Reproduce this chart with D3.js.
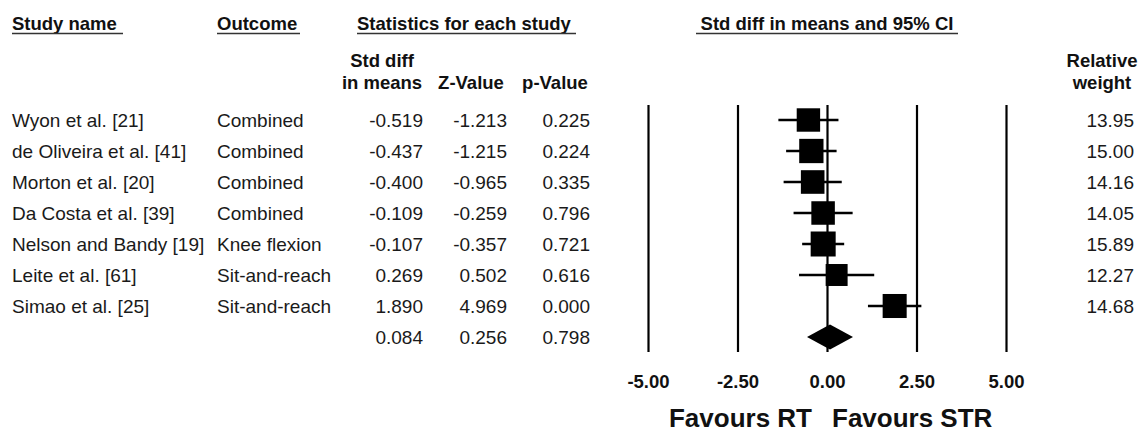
<!DOCTYPE html>
<html>
<head>
<meta charset="utf-8">
<script src="https://cdn.jsdelivr.net/npm/d3@7"></script>
<style>
  body { margin: 0; background: #fff; }
  svg { display: block; font-family: "Liberation Sans", Arial, sans-serif; }
  .head { font-size: 18.5px; font-weight: bold; fill: #111; }
  .cell { font-size: 19px; fill: #1a1a1a; }
  .rule { stroke: #333; stroke-width: 1.6; }
  .tick text { font-size: 18.5px; font-weight: bold; fill: #111; }
  .fav { font-size: 26px; font-weight: bold; fill: #111; }
</style>
</head>
<body>
<script>
// data
var studies = ["Wyon et al. [21]", "de Oliveira et al. [41]", "Morton et al. [20]", "Da Costa et al. [39]",
               "Nelson and Bandy [19]", "Leite et al. [61]", "Simao et al. [25]"];
var outcomes = ["Combined", "Combined", "Combined", "Combined", "Knee flexion", "Sit-and-reach", "Sit-and-reach"];
var smd = [-0.519, -0.437, -0.400, -0.109, -0.107, 0.269, 1.890];
var lower = [-1.358, -1.142, -1.212, -0.934, -0.694, -0.781, 1.144];
var upper = [0.320, 0.268, 0.412, 0.716, 0.480, 1.319, 2.636];
var zValues = [-1.213, -1.215, -0.965, -0.259, -0.357, 0.502, 4.969];
var pValues = [0.225, 0.224, 0.335, 0.796, 0.721, 0.616, 0.000];
var weights = [13.95, 15.00, 14.16, 14.05, 15.89, 12.27, 14.68];

// pooled result
var pooled = { smd: 0.084, lower: -0.559, upper: 0.727, z: 0.256, p: 0.798 };

var tickValues = [-5, -2.5, 0, 2.5, 5];

var width = 1146, height = 434;
var svg = d3.select("body").append("svg").attr("width", width).attr("height", height);

var x = d3.scaleLinear().domain([-5, 5]).range([648, 1006]);
var y = d3.scalePoint().domain(d3.range(studies.length + 1)).range([120, 337]);
var boxSize = d3.scaleSqrt().domain([0, d3.max(weights)]).range([0, 25]);

// plain hyphen for negatives, like the source program
var locale = d3.formatLocale({ decimal: ".", thousands: ",", grouping: [3], currency: ["", ""], minus: "-" });
var f3 = locale.format(".3f");
var f2 = locale.format(".2f");

// headers
var heads = [
  { t: "Study name", x: 12, a: "start", x1: 12, x2: 123 },
  { t: "Outcome", x: 217, a: "start", x1: 217, x2: 300 },
  { t: "Statistics for each study", x: 357, a: "start", x1: 357, x2: 576 },
  { t: "Std diff in means and 95% CI", x: x(0), a: "middle", x1: 696, x2: 958 }
];
heads.forEach(function(h) {
  svg.append("text").attr("class", "head").attr("x", h.x).attr("y", 30).attr("text-anchor", h.a).text(h.t);
  svg.append("line").attr("class", "rule").attr("x1", h.x1).attr("x2", h.x2).attr("y1", 33.5).attr("y2", 33.5);
});

var sub = [
  { t: ["Std diff", "in means"], x: 382 },
  { t: ["", "Z-Value"], x: 471 },
  { t: ["", "p-Value"], x: 555 },
  { t: ["Relative", "weight"], x: 1102 }
];
sub.forEach(function(s) {
  svg.append("text").attr("class", "head").attr("x", s.x).attr("y", 67).attr("text-anchor", "middle").text(s.t[0]);
  svg.append("text").attr("class", "head").attr("x", s.x).attr("y", 89).attr("text-anchor", "middle").text(s.t[1]);
});

// axis with full-height reference lines
var axis = d3.axisBottom(x).tickValues(tickValues).tickFormat(f2)
  .tickSizeInner(-(352 - 105)).tickSizeOuter(0).tickPadding(23);
var ax = svg.append("g").attr("transform", "translate(0,352)").call(axis);
ax.select(".domain").remove();
ax.selectAll(".tick line").attr("stroke", "#000").attr("stroke-width", 2.2);
ax.selectAll(".tick text").attr("fill", "#111").attr("font-family", null).attr("font-size", null);

// table rows
var rows = svg.append("g").selectAll("g").data(studies).join("g")
  .attr("transform", function(d, i) { return "translate(0," + (y(i) + 7) + ")"; });
rows.append("text").attr("class", "cell").attr("x", 12).text(function(d) { return d; });
rows.append("text").attr("class", "cell").attr("x", 217).text(function(d, i) { return outcomes[i]; });
rows.append("text").attr("class", "cell").attr("x", 423).attr("text-anchor", "end").text(function(d, i) { return f3(smd[i]); });
rows.append("text").attr("class", "cell").attr("x", 507).attr("text-anchor", "end").text(function(d, i) { return f3(zValues[i]); });
rows.append("text").attr("class", "cell").attr("x", 590).attr("text-anchor", "end").text(function(d, i) { return f3(pValues[i]); });
rows.append("text").attr("class", "cell").attr("x", 1134).attr("text-anchor", "end").text(function(d, i) { return f2(weights[i]); });

// pooled row text
var py = y(studies.length) + 7;
svg.append("text").attr("class", "cell").attr("x", 423).attr("y", py).attr("text-anchor", "end").text(f3(pooled.smd));
svg.append("text").attr("class", "cell").attr("x", 507).attr("y", py).attr("text-anchor", "end").text(f3(pooled.z));
svg.append("text").attr("class", "cell").attr("x", 590).attr("y", py).attr("text-anchor", "end").text(f3(pooled.p));

// CI lines and boxes
var marks = svg.append("g");
marks.selectAll("line.ci").data(smd).join("line").attr("class", "ci")
  .attr("x1", function(d, i) { return x(lower[i]); })
  .attr("x2", function(d, i) { return x(upper[i]); })
  .attr("y1", function(d, i) { return y(i); })
  .attr("y2", function(d, i) { return y(i); })
  .attr("stroke", "#000").attr("stroke-width", 2.6);
marks.selectAll("rect.box").data(smd).join("rect").attr("class", "box")
  .attr("x", function(d, i) { return x(d) - boxSize(weights[i]) / 2; })
  .attr("y", function(d, i) { return y(i) - boxSize(weights[i]) / 2; })
  .attr("width", function(d, i) { return boxSize(weights[i]); })
  .attr("height", function(d, i) { return boxSize(weights[i]); })
  .attr("fill", "#000");

// pooled diamond
var dy = y(studies.length);
svg.append("path").attr("fill", "#000")
  .attr("d", "M" + x(pooled.lower) + "," + dy + "L" + x(pooled.smd) + "," + (dy - 12.5) +
             "L" + x(pooled.upper) + "," + dy + "L" + x(pooled.smd) + "," + (dy + 12.5) + "Z");

// favours labels
svg.append("text").attr("class", "fav").attr("x", x(0) - 15).attr("y", 427).attr("text-anchor", "end").text("Favours RT");
svg.append("text").attr("class", "fav").attr("x", x(0) + 5).attr("y", 427).attr("text-anchor", "start").text("Favours STR");
</script>
</body>
</html>
